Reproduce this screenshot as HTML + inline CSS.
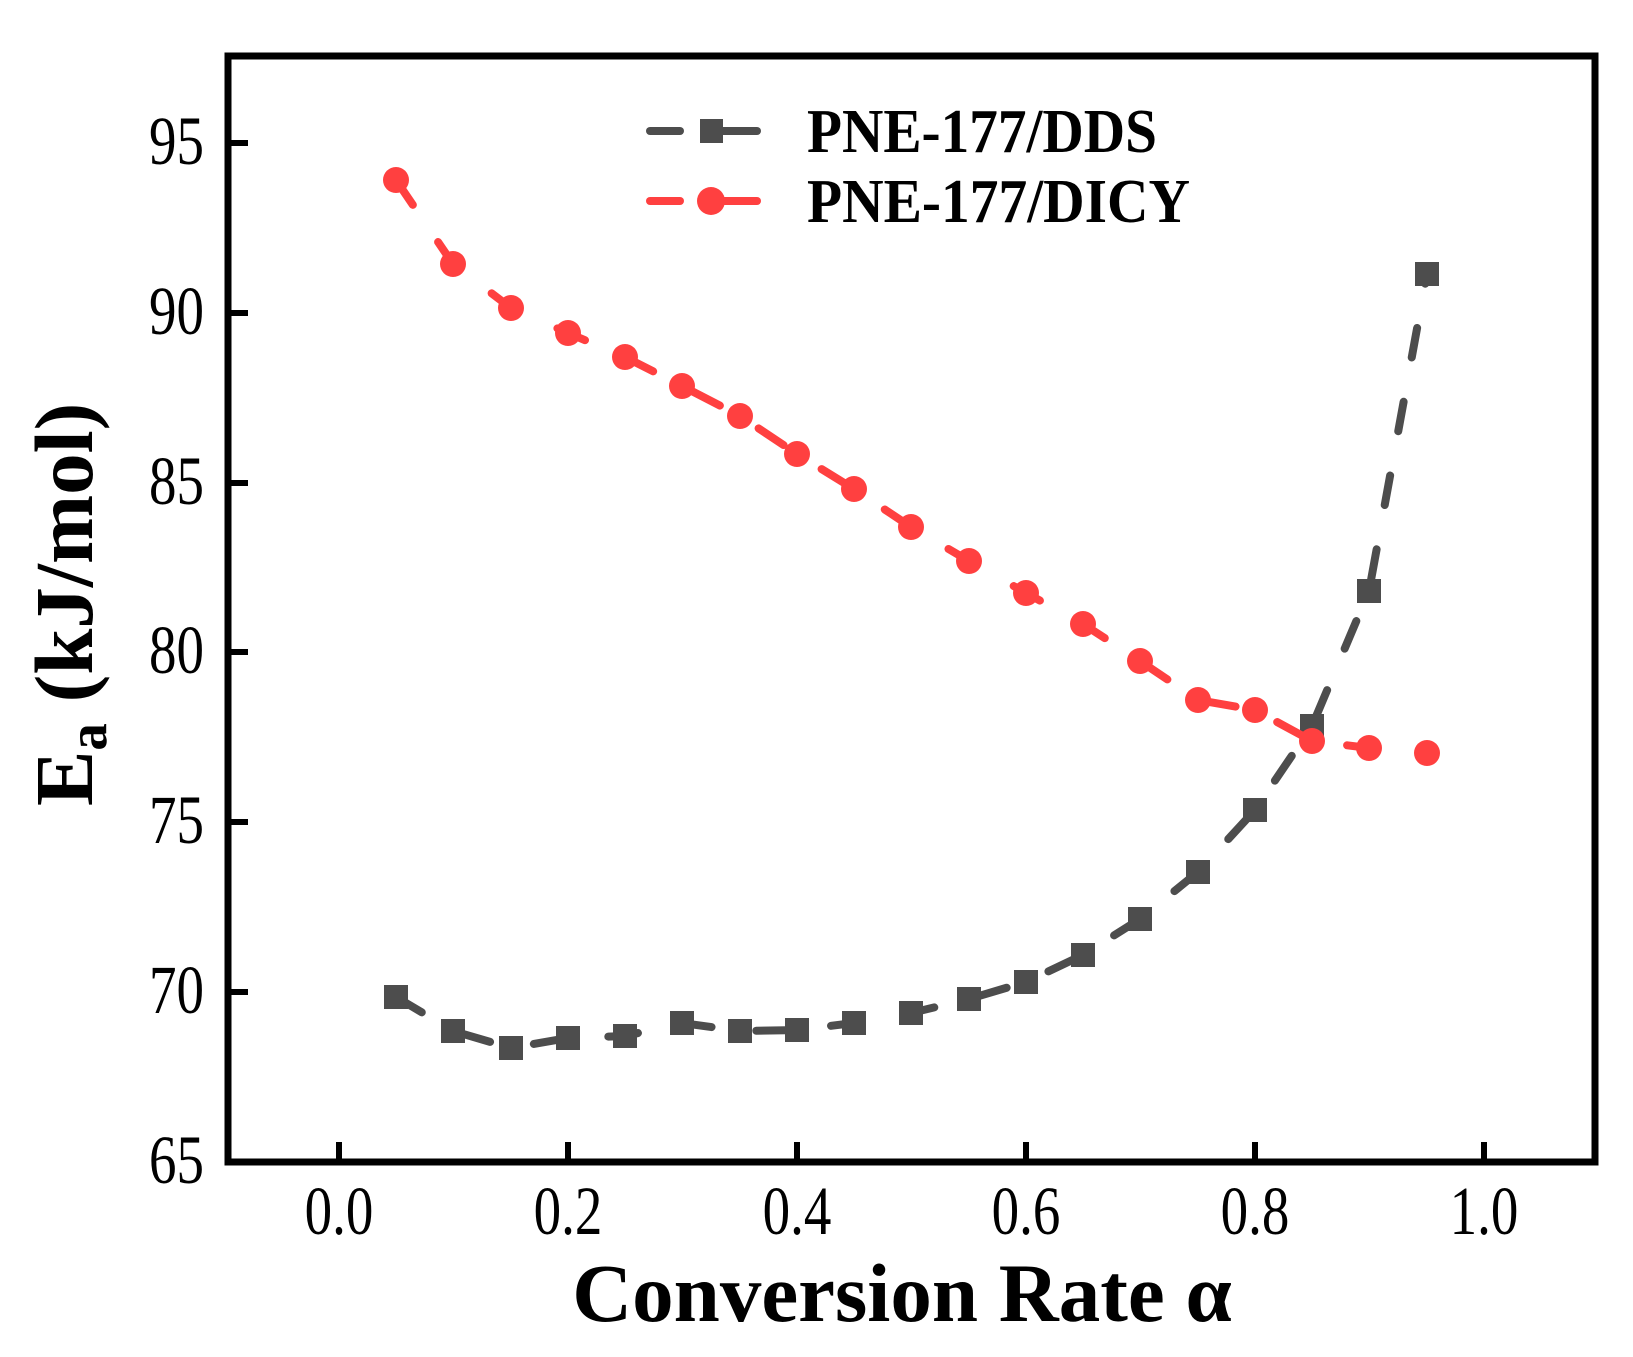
<!DOCTYPE html>
<html><head><meta charset="utf-8"><style>html,body{margin:0;padding:0;background:#fff}svg{display:block}</style></head>
<body>
<svg width="1633" height="1357" viewBox="0 0 1633 1357" xmlns="http://www.w3.org/2000/svg" font-family="Liberation Serif, serif">
<rect width="1633" height="1357" fill="#fff"/>
<rect x="228" y="56" width="1367" height="1106" fill="none" stroke="#000" stroke-width="7"/>
<g stroke="#000" stroke-width="6">
<line x1="228" y1="143" x2="248" y2="143"/><line x1="228" y1="313" x2="248" y2="313"/><line x1="228" y1="483" x2="248" y2="483"/><line x1="228" y1="652" x2="248" y2="652"/><line x1="228" y1="822" x2="248" y2="822"/><line x1="228" y1="992" x2="248" y2="992"/>
<line x1="339" y1="1162" x2="339" y2="1142"/><line x1="568" y1="1162" x2="568" y2="1142"/><line x1="797" y1="1162" x2="797" y2="1142"/><line x1="1026" y1="1162" x2="1026" y2="1142"/><line x1="1255" y1="1162" x2="1255" y2="1142"/><line x1="1484" y1="1162" x2="1484" y2="1142"/>
</g>
<g font-size="55" text-anchor="end">
<text transform="translate(204,164) scale(1,1.25)">95</text><text transform="translate(204,334) scale(1,1.25)">90</text><text transform="translate(204,504) scale(1,1.25)">85</text><text transform="translate(204,673) scale(1,1.25)">80</text><text transform="translate(204,843) scale(1,1.25)">75</text><text transform="translate(204,1013) scale(1,1.25)">70</text><text transform="translate(204,1183) scale(1,1.25)">65</text>
</g>
<g font-size="55" text-anchor="middle">
<text transform="translate(339,1234) scale(1,1.25)">0.0</text><text transform="translate(568,1234) scale(1,1.25)">0.2</text><text transform="translate(797,1234) scale(1,1.25)">0.4</text><text transform="translate(1026,1234) scale(1,1.25)">0.6</text><text transform="translate(1255,1234) scale(1,1.25)">0.8</text><text transform="translate(1484,1234) scale(1,1.25)">1.0</text>
</g>
<text x="902" y="1321" font-size="83" font-weight="bold" text-anchor="middle">Conversion Rate α</text>
<text transform="translate(92,806) rotate(-90)" font-size="83" font-weight="bold">E<tspan font-size="55" dy="14">a</tspan><tspan dy="-14"> (kJ/mol)</tspan></text>
<polyline fill="none" stroke="#4d4d4d" stroke-width="8" stroke-linecap="round" stroke-dasharray="30 45" points="396,997 453,1031 511,1048 568,1038 625,1036 682,1023 740,1031 797,1030 854,1023 911,1013 969,999 1026,982 1083,955 1140,919 1198,872 1255,810 1312,726 1369,591 1427,274"/>
<g fill="#4d4d4d">
<rect x="384" y="985" width="24" height="24"/><rect x="441" y="1019" width="24" height="24"/><rect x="499" y="1036" width="24" height="24"/><rect x="556" y="1026" width="24" height="24"/><rect x="613" y="1024" width="24" height="24"/><rect x="670" y="1011" width="24" height="24"/><rect x="728" y="1019" width="24" height="24"/><rect x="785" y="1018" width="24" height="24"/><rect x="842" y="1011" width="24" height="24"/><rect x="899" y="1001" width="24" height="24"/><rect x="957" y="987" width="24" height="24"/><rect x="1014" y="970" width="24" height="24"/><rect x="1071" y="943" width="24" height="24"/><rect x="1128" y="907" width="24" height="24"/><rect x="1186" y="860" width="24" height="24"/><rect x="1243" y="798" width="24" height="24"/><rect x="1300" y="714" width="24" height="24"/><rect x="1357" y="579" width="24" height="24"/><rect x="1415" y="262" width="24" height="24"/>
</g>
<polyline fill="none" stroke="#ff4040" stroke-width="8" stroke-linecap="round" stroke-dasharray="30 45" points="396,180 453,264 511,308 568,333 625,357 682,386 740,416 797,454 854,489 911,527 969,561 1026,593 1083,624 1140,661 1198,700 1255,710 1312,741 1369,748 1427,753"/>
<g fill="#ff4040">
<circle cx="396" cy="180" r="13"/><circle cx="453" cy="264" r="13"/><circle cx="511" cy="308" r="13"/><circle cx="568" cy="333" r="13"/><circle cx="625" cy="357" r="13"/><circle cx="682" cy="386" r="13"/><circle cx="740" cy="416" r="13"/><circle cx="797" cy="454" r="13"/><circle cx="854" cy="489" r="13"/><circle cx="911" cy="527" r="13"/><circle cx="969" cy="561" r="13"/><circle cx="1026" cy="593" r="13"/><circle cx="1083" cy="624" r="13"/><circle cx="1140" cy="661" r="13"/><circle cx="1198" cy="700" r="13"/><circle cx="1255" cy="710" r="13"/><circle cx="1312" cy="741" r="13"/><circle cx="1369" cy="748" r="13"/><circle cx="1427" cy="753" r="13"/>
</g>
<g stroke-width="8" stroke-linecap="round">
<line x1="650" y1="131" x2="680" y2="131" stroke="#4d4d4d"/><line x1="715" y1="131" x2="757" y2="131" stroke="#4d4d4d"/>
<rect x="700" y="119" width="23" height="24" fill="#4d4d4d"/>
<line x1="650" y1="201" x2="680" y2="201" stroke="#ff4040"/><line x1="715" y1="201" x2="757" y2="201" stroke="#ff4040"/>
<circle cx="711" cy="201" r="14" fill="#ff4040"/>
</g>
<g font-size="52" font-weight="bold">
<text transform="translate(807,152) scale(1,1.2)" textLength="350" lengthAdjust="spacingAndGlyphs">PNE-177/DDS</text>
<text transform="translate(807,222) scale(1,1.2)" textLength="383" lengthAdjust="spacingAndGlyphs">PNE-177/DICY</text>
</g>
</svg>
</body></html>
